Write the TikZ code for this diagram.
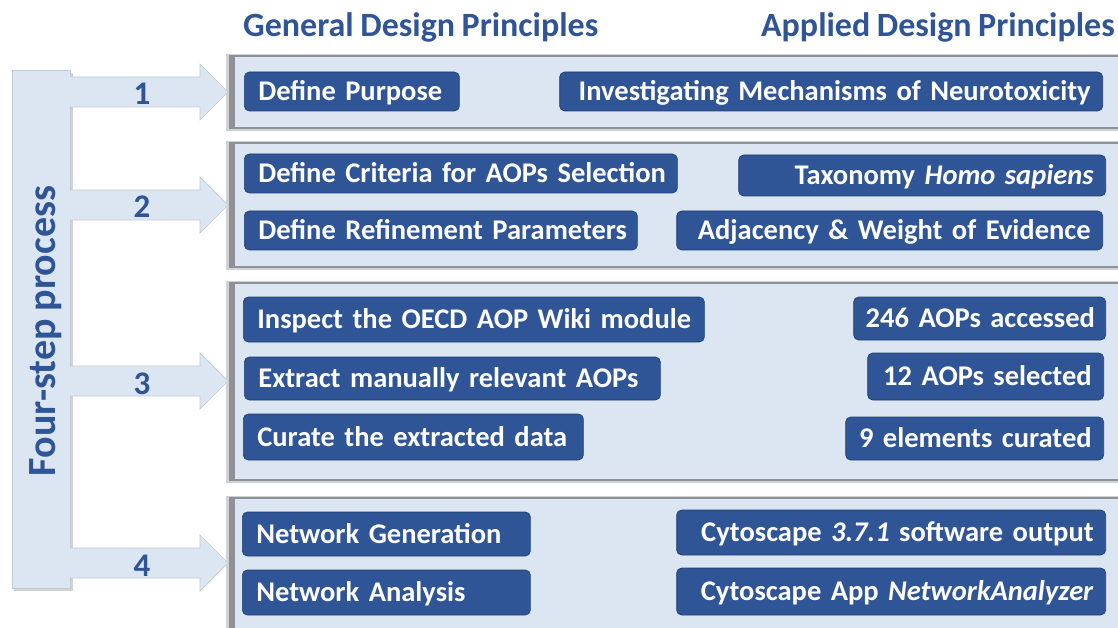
\documentclass[tikz,border=0pt]{standalone}
\usepackage{fontspec}
\setmainfont{Carlito}[WordSpace=0.85]
\definecolor{panelfill}{HTML}{DCE6F2}
\definecolor{btnfill}{HTML}{2F5597}
\definecolor{btnedge}{HTML}{223F74}
\definecolor{headc}{HTML}{2F5597}
\definecolor{arrowedge}{HTML}{C2CCD8}
\definecolor{shadowdark}{HTML}{8E9196}
\definecolor{shadowlight}{HTML}{D0D2D6}
\begin{document}
\begin{tikzpicture}[x=1pt,y=-1pt,
  btn/.style={fill=btnfill, draw=btnedge, line width=0.7pt, rounded corners=5pt,
    text=white, font=\fontsize{28.5}{32}\selectfont\bfseries,
    text height=24pt, text depth=6pt, inner ysep=0pt},
  btnl/.style={btn, anchor=west, align=left, inner xsep=14pt},
  btnr/.style={btn, anchor=east, align=right, inner xsep=12pt},
  head/.style={text=headc, font=\fontsize{34}{38}\selectfont\bfseries, inner sep=0pt},
  num/.style={text=headc, font=\fontsize{33}{36}\selectfont\bfseries, inner sep=0pt, anchor=base},
  arrowbody/.style={fill=panelfill},
  arrowline/.style={draw=arrowedge, line width=0.6pt, line join=miter}
]
\useasboundingbox (0,0) rectangle (1118,628);

% headings
\node[head, anchor=base west] (hg) at (243,37) {General Design Principles};
\node[head, anchor=base east] (ha) at (1115,37) {Applied Design Principles};

% panels
\foreach \t/\b in {56/128, 143/267, 283/480, 498/640}{
  \fill[shadowlight] (226,\t-2) rectangle (1130,\b+3);
  \fill[shadowdark] (229,\t-1) rectangle (1130,\b+1);
  \fill[panelfill] (235,\t+1) rectangle (1130,\b-1);
}

% vertical bar
\fill[shadowlight] (14,73) rectangle (73,591);
\fill[panelfill] (12,70) rectangle (70,588);
\draw[arrowedge, line width=0.6pt] (12,70) rectangle (70,588);
\node[rotate=90, anchor=base, text=headc, font=\fontsize{40}{42}\selectfont\bfseries, inner sep=0pt] (fsp) at (55,331) {Four-step process};

% arrows
\foreach \c/\n in {92/1, 205/2, 381/3, 563/4}{
  \fill[arrowbody] (68,\c-15) -- (200,\c-15) -- (200,\c-28) -- (228,\c) -- (200,\c+28) -- (200,\c+15) -- (68,\c+15) -- cycle;
  \draw[arrowline] (70,\c-15) -- (200,\c-15) -- (200,\c-28) -- (228,\c) -- (200,\c+28) -- (200,\c+15) -- (70,\c+15);
  \node[num] (num\n) at (142,\c+13) {\n};
}

% panel 1
\node[btnl, text width=187pt, minimum height=39pt] (b1l) at (244,91.5) {\mbox{Define Purpose}};
\node[btnr, text width=519pt, minimum height=39pt] (b1r) at (1103,91.5) {\mbox{Investigating Mechanisms of Neurotoxicity}};

% panel 2
\node[btnl, text width=405pt, minimum height=39pt] (b2a) at (244,173.5) {\mbox{Define Criteria for AOPs Selection}};
\node[btnl, text width=365pt, minimum height=39pt] (b2b) at (244,230.5) {\mbox{Define Refinement Parameters}};
\node[btnr, text width=343pt, minimum height=41pt] (r2a) at (1106,175.5) {\mbox{Taxonomy \textit{Homo sapiens}}};
\node[btnr, text width=402pt, minimum height=39pt] (r2b) at (1103,230.5) {\mbox{Adjacency \& Weight of Evidence}};

% panel 3
\node[btnl, text width=433pt, minimum height=45pt] (b3a) at (243,319.5) {\mbox{Inspect the OECD AOP Wiki module}};
\node[btnl, text width=388pt, minimum height=43pt] (b3b) at (244,378.5) {\mbox{Extract manually relevant AOPs}};
\node[btnl, text width=312pt, minimum height=46pt] (b3c) at (243,437) {\mbox{Curate the extracted data}};
\node[btnr, text width=228pt, minimum height=43pt] (r3a) at (1106,318.5) {\mbox{246 AOPs accessed}};
\node[btnr, text width=212pt, minimum height=47pt] (r3b) at (1104,376.5) {\mbox{12 AOPs selected}};
\node[btnr, text width=234pt, minimum height=43pt] (r3c) at (1104,438.5) {\mbox{9 elements curated}};

% panel 4
\node[btnl, text width=260pt, minimum height=44pt] (b4a) at (242,534) {\mbox{Network Generation}};
\node[btnl, text width=260pt, minimum height=45pt] (b4b) at (242,592.5) {\mbox{Network Analysis}};
\node[btnr, text width=405pt, minimum height=45pt] (r4a) at (1106,532.5) {\mbox{Cytoscape \textit{3.7.1} software output}};
\node[btnr, text width=405pt, minimum height=47pt] (r4b) at (1106,591.5) {\mbox{Cytoscape App \textit{NetworkAnalyzer}}};
\end{tikzpicture}
\end{document}
